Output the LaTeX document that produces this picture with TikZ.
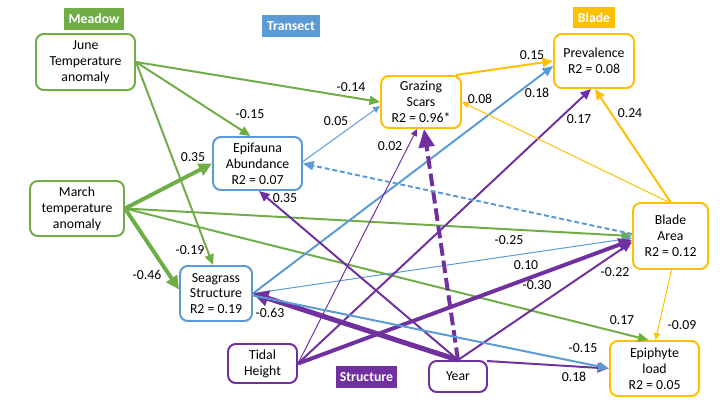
\documentclass[tikz,border=0pt]{standalone}
\usepackage{fontspec}
\setmainfont{Carlito}
\usetikzlibrary{arrows.meta,calc}
\newlength\pxu
\setlength\pxu{0.025cm}
\definecolor{cgreen}{HTML}{70AD47}
\definecolor{cblue}{HTML}{5B9BD5}
\definecolor{cgold}{HTML}{FFC000}
\definecolor{cpurple}{HTML}{7030A0}
\begin{document}
\begin{tikzpicture}[x=0.025cm,y=-0.025cm,
  lab/.style={font=\fontsize{9.8}{11.3}\selectfont},
  box/.style={draw, line width=1.4pt, rounded corners=5.5pt, align=center, inner sep=0pt, fill=white, lab},
  hdr/.style={fill=#1, text=white, font=\fontsize{9.8}{11}\selectfont\bfseries, inner sep=0pt},
  num/.style={lab, inner sep=0pt},
  wthin/.style={line width=0.7pt, -{Triangle[length=5pt,width=4.5pt]}},
  wmed/.style={line width=1.4pt, -{Triangle[length=7.5pt,width=6.5pt]}},
  wthick/.style={line width=2.8pt, -{Triangle[length=9.5pt,width=9pt]}},
  wvthick/.style={line width=3.6pt, -{Triangle[length=11pt,width=11pt]}},
  bdash/.style={wmed, dash pattern=on 3.5pt off 2pt},
  pdash/.style={line width=2.8pt, dash pattern=on 9pt off 3.5pt, -{Triangle[length=13pt,width=11pt]}}
]
\fill[white] (0,0) rectangle (720,405);
\useasboundingbox (0,0) rectangle (720,405);

% headers
\node[hdr=cgreen, minimum width=60\pxu, minimum height=22\pxu] (hmeadow) at (94,19) {Meadow};
\node[hdr=cblue, minimum width=58\pxu, minimum height=22\pxu] (htransect) at (291,26) {Transect};
\node[hdr=cgold, minimum width=42\pxu, minimum height=21\pxu] (hblade) at (594,17.5) {Blade};
\node[hdr=cpurple, minimum width=61\pxu, minimum height=22\pxu] (hstruct) at (366.5,377) {Structure};

% boxes
\node[box, draw=cgreen, minimum width=99\pxu, minimum height=56\pxu] (june) at (85.5,62) {June\\Temperature\\anomaly};
\node[box, draw=cgreen, minimum width=94\pxu, minimum height=55\pxu] (march) at (77,208.5) {March\\temperature\\anomaly};
\node[box, draw=cblue, minimum width=89\pxu, minimum height=53\pxu] (epi) at (257.5,163.5) {Epifauna\\Abundance\\R2 = 0.07};
\node[box, draw=cblue, minimum width=72\pxu, minimum height=55\pxu] (sea) at (216,293.5) {Seagrass\\Structure\\R2 = 0.19};
\node[box, draw=cgold, minimum width=80\pxu, minimum height=52\pxu] (graz) at (421,102) {Grazing\\Scars\\R2 = 0.96*};
\node[box, draw=cgold, minimum width=80\pxu, minimum height=54\pxu] (prev) at (594,61) {Prevalence\\R2 = 0.08};
\node[box, draw=cgold, minimum width=75\pxu, minimum height=66\pxu] (blade) at (670.5,236) {Blade\\Area\\R2 = 0.12};
\node[box, draw=cgold, minimum width=89\pxu, minimum height=55\pxu] (epiph) at (654.5,368.5) {Epiphyte\\load\\R2 = 0.05};
\node[box, draw=cpurple, minimum width=69\pxu, minimum height=39\pxu] (tidal) at (262.5,363.5) {Tidal\\Height};
\node[box, draw=cpurple, minimum width=58\pxu, minimum height=31\pxu] (year) at (458,376.5) {Year};

% green edges
\draw[cgreen, wmed] (june.east) -- (graz.west);
\draw[cgreen, wmed] (june.east) -- ($(epi.north)+(-7,0)$);
\draw[cgreen, wmed] (june.east) -- ($(sea.north)+(-3,0)$);
\draw[cgreen, wthick] (march.east) -- (epi.west);
\draw[cgreen, wmed] (march.east) -- (blade.west);
\draw[cgreen, wmed] (march.east) -- ($(epiph.north)+(-6,0)$);
\draw[cgreen, wthick] (march.east) -- ($(sea.west)+(0,-4)$);

% blue edges
\draw[cblue, wthin] ($(epi.east)+(0,-2)$) -- ($(graz.west)+(0,4)$);
\draw[cblue, wmed] (sea.east) -- ($(prev.west)+(0,5)$);
\draw[cblue, wthin] (sea.east) -- ($(blade.west)+(0,2)$);

% purple edges
\draw[cpurple, wmed] (year.north) -- ($(epi.south)+(1.5,0)$);
\draw[cpurple, wthin] (tidal.east) -- ($(graz.south)+(-4,0)$);
\draw[cpurple, wmed] (tidal.east) -- ($(prev.south)+(-3,0)$);
\draw[cpurple, wthick] (tidal.east) -- ($(blade.west)+(0,4)$);
\draw[cpurple, wmed] (year.north) -- ($(blade.west)+(0,6)$);
\draw[cpurple, wvthick] (year.north) -- (sea.east);
\draw[cpurple, wmed] ($(year.north east)+(-1,1)$) -- ($(epiph.west)+(-1,0)$);
\draw[cpurple, pdash] (year.north) -- ($(graz.south)+(3,0)$);

% more blue
\draw[cblue, bdash] ($(blade.west)+(0,-2)$) -- (epi.east);
\draw[cblue, wmed] ($(sea.east)+(0,2)$) -- (epiph.west);

% gold edges
\draw[cgold, wmed] ($(graz.north east)+(-6,0)$) -- (prev.west);
\draw[cgold, wthin] ($(blade.north)+(-2,0)$) -- (graz.east);
\draw[cgold, wmed] (blade.north) -- ($(prev.south)+(1,0)$);
\draw[cgold, wthin] ($(blade.south)+(1,0)$) -- ($(epiph.north)+(1,0)$);

% labels
\node[num] (n1) at (351,87) {-0.14};
\node[num] (n2) at (250,114) {-0.15};
\node[num] (n3) at (190,250) {-0.19};
\node[num] (n4) at (193,157) {0.35};
\node[num] (n5) at (509,240) {-0.25};
\node[num] (n6) at (622,320) {0.17};
\node[num] (n7) at (147,275) {-0.46};
\node[num] (n8) at (336,121) {0.05};
\node[num] (n9) at (537,93) {0.18};
\node[num] (n10) at (583,348) {-0.15};
\node[num] (n11) at (532,55) {0.15};
\node[num] (n12) at (480,99) {0.08};
\node[num] (n13) at (630,113) {0.24};
\node[num] (n14) at (682,325) {-0.09};
\node[num] (n15) at (285,198) {0.35};
\node[num] (n16) at (390,146) {0.02};
\node[num] (n17) at (579,119) {0.17};
\node[num] (n18) at (526,265) {0.10};
\node[num] (n19) at (537,285) {-0.30};
\node[num] (n20) at (615,272) {-0.22};
\node[num] (n21) at (270,313) {-0.63};
\node[num] (n22) at (574,377) {0.18};
\end{tikzpicture}
\end{document}
